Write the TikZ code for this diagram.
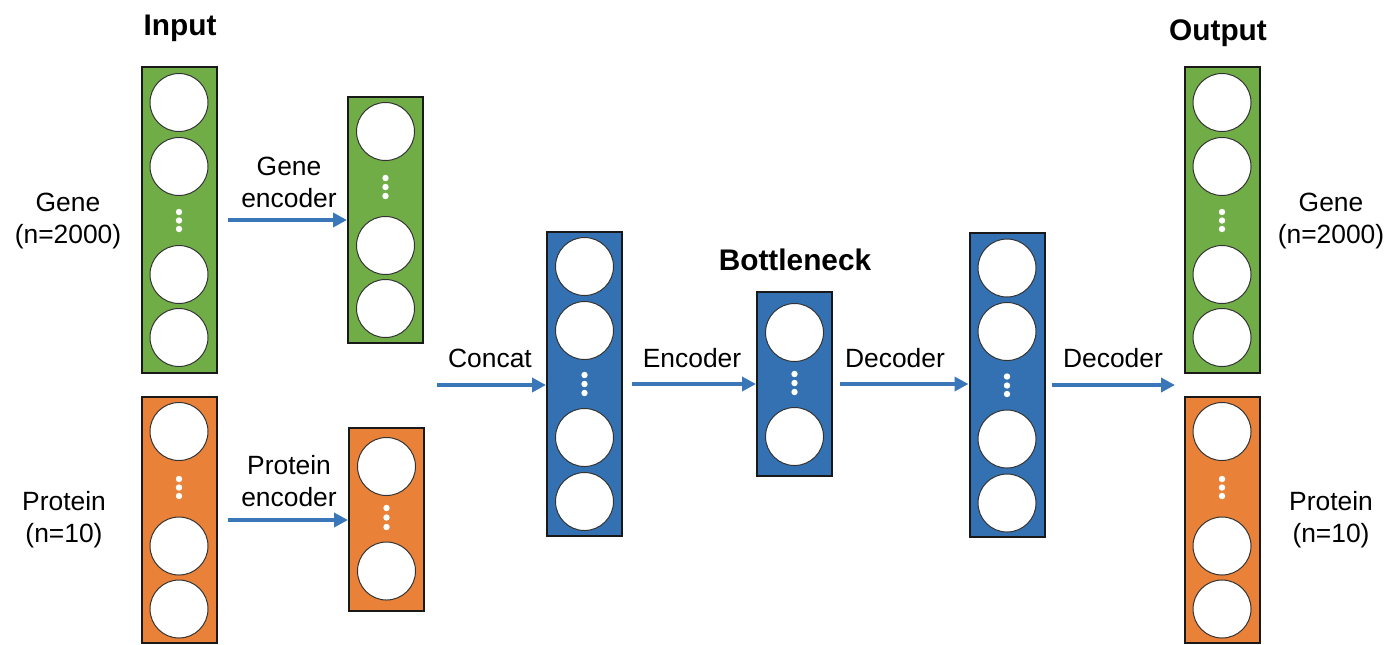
\documentclass[tikz,border=0pt]{standalone}
\usepackage{fontspec}
\setmainfont{Liberation Sans}
\usetikzlibrary{arrows.meta}
\definecolor{genegreen}{HTML}{70AD47}
\definecolor{protorange}{HTML}{EA8138}
\definecolor{latentblue}{HTML}{3371B2}
\definecolor{flowblue}{HTML}{3A77B8}

\begin{document}
\begin{tikzpicture}[x=0.5pt,y=-0.5pt,
  layer/.style={draw=black!90,line width=1pt,minimum width=37.5pt,inner sep=0pt},
  unit/.style={circle,draw=black!80,fill=white,line width=0.5pt,minimum size=29pt,inner sep=0pt},
  dot/.style={circle,fill=white,inner sep=0pt,minimum size=3.2pt},
  flow/.style={draw=flowblue,line width=1.9pt,-{Triangle[length=7pt,width=7pt]}},
  lab/.style={font=\fontsize{13.2}{16}\selectfont,align=center},
  title/.style={font=\fontsize{14.9}{17}\selectfont\bfseries}]
\useasboundingbox (0,0) rectangle (1400,644);

% input layers
\node[layer,fill=genegreen,minimum height=153pt] (gin) at (179,220) {};
\node[layer,fill=protorange,minimum height=123pt] (pin) at (179,520) {};
\foreach \y [count=\i] in {102.5,166.5,274.5,337.5} \node[unit] (gin-\i) at (179,\y) {};
\foreach \y [count=\i] in {212,220.5,229} \node[dot] (gin-d\i) at (179,\y) {};
\foreach \y [count=\i] in {431.5,546,609} \node[unit] (pin-\i) at (179,\y) {};
\foreach \y [count=\i] in {479,487.5,496} \node[dot] (pin-d\i) at (179,\y) {};

% separate encoders
\node[layer,fill=genegreen,minimum height=123pt] (genc) at (385.5,220) {};
\node[layer,fill=protorange,minimum height=91.5pt] (penc) at (386.5,519.5) {};
\foreach \y [count=\i] in {131.5,245.5,308.5} \node[unit] (genc-\i) at (385.5,\y) {};
\foreach \y [count=\i] in {178,187,196} \node[dot] (genc-d\i) at (385.5,\y) {};
\foreach \y [count=\i] in {466.5,571} \node[unit] (penc-\i) at (386.5,\y) {};
\foreach \y [count=\i] in {508,517.5,527} \node[dot] (penc-d\i) at (386.5,\y) {};

% concat, bottleneck, decoder
\node[layer,fill=latentblue,minimum height=152pt] (cat) at (584.5,384) {};
\foreach \y [count=\i] in {266.5,330.5,437.5,501.5} \node[unit] (cat-\i) at (584.5,\y) {};
\foreach \y [count=\i] in {375,384,393} \node[dot] (cat-d\i) at (584.5,\y) {};
\node[layer,fill=latentblue,minimum height=92pt] (bot) at (794.5,384) {};
\foreach \y [count=\i] in {332.5,436.5} \node[unit] (bot-\i) at (794.5,\y) {};
\foreach \y [count=\i] in {374,383,392} \node[dot] (bot-d\i) at (794.5,\y) {};
\node[layer,fill=latentblue,minimum height=152pt] (dec) at (1007,385) {};
\foreach \y [count=\i] in {268,331.5,439,503} \node[unit] (dec-\i) at (1007,\y) {};
\foreach \y [count=\i] in {376.5,385.5,394} \node[dot] (dec-d\i) at (1007,\y) {};

% output layers
\node[layer,fill=genegreen,minimum height=153pt] (gout) at (1222,220) {};
\node[layer,fill=protorange,minimum height=123pt] (pout) at (1222,520) {};
\foreach \y [count=\i] in {102.5,166.5,274.5,337.5} \node[unit] (gout-\i) at (1222,\y) {};
\foreach \y [count=\i] in {212,220.5,229} \node[dot] (gout-d\i) at (1222,\y) {};
\foreach \y [count=\i] in {431.5,546,609} \node[unit] (pout-\i) at (1222,\y) {};
\foreach \y [count=\i] in {479,487.5,496} \node[dot] (pout-d\i) at (1222,\y) {};

% arrows
\coordinate (catin) at (437,385);
\coordinate (outin) at (1175,385);
\draw[flow] ([xshift=5pt]gin.east) -- (genc.west |- gin.east);
\draw[flow] ([xshift=5pt]pin.east) -- (penc.west |- pin.east);
\draw[flow] (catin) -- (cat.west |- catin);
\draw[flow] ([xshift=4.5pt]cat.east) -- (bot.west);
\draw[flow] ([xshift=3.5pt]bot.east) -- (dec.west |- bot.east);
\draw[flow] ([xshift=3pt]dec.east) -- (outin);

% labels
\node[title] (tin) at (180,28) {Input};
\node[title] (tout) at (1218,33) {Output};
\node[title] (tbot) at (795,260) {Bottleneck};
\node[lab] (lgin) at (68,221) {Gene\\(n=2000)};
\node[lab] (lpin) at (64,520) {Protein\\(n=10)};
\node[lab] (lgout) at (1331,221) {Gene\\(n=2000)};
\node[lab] (lpout) at (1331,520) {Protein\\(n=10)};
\node[lab] (lgenc) at (289,182) {Gene\\encoder};
\node[lab] (lpenc) at (289,481.5) {Protein\\encoder};
\node[lab] (lcat) at (490,358) {Concat};
\node[lab] (lenc) at (692,358) {Encoder};
\node[lab] (ldec) at (895,358) {Decoder};
\node[lab] (ldec2) at (1113,358) {Decoder};
\end{tikzpicture}
\end{document}
